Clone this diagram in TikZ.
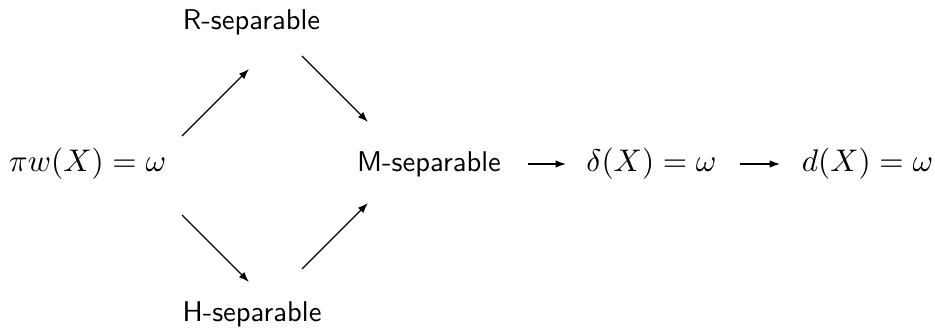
\documentclass[tikz,border=0pt]{standalone}
\usetikzlibrary{arrows.meta}
\begin{document}
\begin{tikzpicture}[x=0.35pt,y=0.35pt,
  lbl/.style={inner sep=0pt, anchor=base, font=\sffamily\fontsize{10}{12}\selectfont},
  mth/.style={inner sep=0pt, anchor=base, font=\fontsize{11}{13}\selectfont},
  arr/.style={-{Latex[length=3.6pt,width=2.6pt]}, line width=0.45pt}]
\useasboundingbox (0,0) rectangle (935,329);
\node[mth] (pi) at (87.5,157) {$\pi w(X)=\omega$};
\node[lbl] (R) at (251.5,299) {R-separable};
\node[lbl] (H) at (252,7) {H-separable};
\node[lbl] (M) at (429,157) {M-separable};
\node[mth] (delta) at (651.5,157) {$\delta(X)=\omega$};
\node[mth] (d) at (867.5,157) {$d(X)=\omega$};
\draw[arr] ([shift={(94.5,36)}]pi.base) -- ([shift={(-2.5,-39)}]R.base);
\draw[arr] ([shift={(50.5,-26)}]R.base) -- ([shift={(-61,50)}]M.base);
\draw[arr] ([shift={(94.5,-43)}]pi.base) -- ([shift={(-3,40)}]H.base);
\draw[arr] ([shift={(50,53)}]H.base) -- ([shift={(-61,-31)}]M.base);
\draw[arr] ([shift={(99,8)}]M.base) -- ([shift={(-85.5,8)}]delta.base);
\draw[arr] ([shift={(88.5,8)}]delta.base) -- ([shift={(-87.5,8)}]d.base);
\end{tikzpicture}
\end{document}
